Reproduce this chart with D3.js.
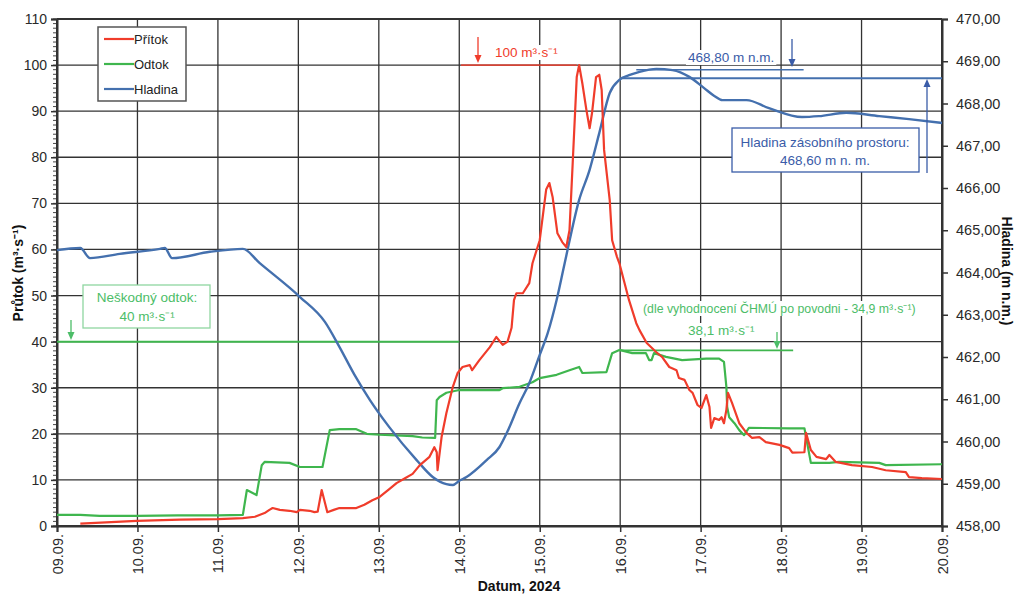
<!DOCTYPE html>
<html>
<head>
<meta charset="utf-8">
<script src="https://cdn.jsdelivr.net/npm/d3@7"></script>
<style>
  body { margin: 0; background: #fff; }
  svg { display: block; font-family: "Liberation Sans", Arial, sans-serif; }
</style>
</head>
<body>
<div class="chart"></div>
<script>
var svgWidth = 1016;
var svgHeight = 595;

var margin = { top: 19, right: 74, bottom: 69, left: 57 };
var width = svgWidth - margin.left - margin.right;
var height = svgHeight - margin.top - margin.bottom;

// tick labels (days from 09.09. 00:00)
var dateLabels = ["09.09.", "10.09.", "11.09.", "12.09.", "13.09.", "14.09.",
  "15.09.", "16.09.", "17.09.", "18.09.", "19.09.", "20.09."];
var leftTicks = [0, 10, 20, 30, 40, 50, 60, 70, 80, 90, 100, 110];
var rightTicks = [458, 459, 460, 461, 462, 463, 464, 465, 466, 467, 468, 469, 470];

// Přítok [day, m3/s]
var pritok = [
  [0.29, 0.5], [0.99, 1.1], [1.53, 1.4], [2.0, 1.5], [2.31, 1.7], [2.46, 2.0], [2.58, 2.8],
  [2.64, 3.5], [2.68, 3.9], [2.77, 3.5], [2.89, 3.3], [2.98, 3.0], [3.02, 3.5], [3.14, 3.3],
  [3.2, 3.0], [3.24, 3.1], [3.29, 7.8], [3.36, 3.0], [3.44, 3.5], [3.51, 3.9], [3.72, 3.9],
  [3.82, 4.6], [3.92, 5.6], [4.01, 6.3], [4.13, 8.0], [4.22, 9.3], [4.32, 10.3], [4.42, 11.3],
  [4.51, 13.2], [4.63, 15.0], [4.69, 17.1], [4.72, 16.0], [4.73, 12.1], [4.78, 19.3],
  [4.84, 24.5], [4.92, 30.2], [4.98, 33.2], [5.04, 34.5], [5.13, 34.9], [5.16, 33.8],
  [5.25, 36.0], [5.38, 38.8], [5.46, 41.0], [5.54, 39.3], [5.60, 40.0], [5.65, 43.0],
  [5.68, 49.0], [5.71, 50.5], [5.79, 50.5], [5.87, 52.7], [5.91, 57.0], [6.0, 62.0],
  [6.08, 73.0], [6.12, 74.4], [6.16, 71.4], [6.22, 63.5], [6.28, 61.6], [6.33, 60.5],
  [6.37, 64.2], [6.41, 78.8], [6.46, 97.4], [6.49, 100], [6.53, 96.0], [6.58, 90.3],
  [6.62, 86.3], [6.65, 89.6], [6.70, 97.4], [6.74, 97.9], [6.77, 94.6], [6.80, 81.6],
  [6.87, 70.7], [6.90, 62.0], [6.96, 58.4], [6.99, 57.0], [7.11, 49.0], [7.20, 44.0],
  [7.24, 42.5], [7.33, 39.7], [7.45, 37.7], [7.52, 36.7], [7.61, 34.5], [7.70, 33.8],
  [7.73, 32.1], [7.80, 31.7], [7.86, 29.5], [7.90, 28.9], [7.96, 26.3], [8.01, 25.6],
  [8.07, 28.4], [8.11, 25.8], [8.13, 21.3], [8.17, 23.4], [8.23, 23.0], [8.26, 23.6],
  [8.29, 22.3], [8.32, 25.2], [8.34, 28.9], [8.39, 26.7], [8.48, 22.3], [8.57, 20.2],
  [8.64, 19.1], [8.73, 19.3], [8.81, 18.2], [8.98, 17.6], [9.10, 16.9], [9.14, 15.9],
  [9.29, 16.0], [9.31, 20.2], [9.37, 16.5], [9.44, 15.0], [9.56, 14.5], [9.60, 15.4],
  [9.68, 13.9], [9.88, 13.2], [10.13, 12.8], [10.30, 12.1], [10.55, 11.7], [10.59, 10.6],
  [10.75, 10.4], [11.0, 10.2]
];

// Odtok [day, m3/s]
var odtok = [
  [0, 2.4], [0.29, 2.4], [0.53, 2.2], [1.0, 2.2], [1.5, 2.3], [2.0, 2.3], [2.31, 2.4],
  [2.36, 7.8], [2.48, 6.7], [2.545, 13.2], [2.58, 13.9], [2.89, 13.7], [3.02, 12.8],
  [3.30, 12.8], [3.39, 20.8], [3.51, 21.0], [3.72, 21.0], [3.85, 20.0], [4.01, 19.8],
  [4.42, 19.5], [4.54, 19.2], [4.70, 19.1], [4.72, 27.3], [4.755, 28.0], [4.84, 28.9],
  [5.0, 29.5], [5.5, 29.5], [5.54, 29.9], [5.75, 30.2], [5.91, 31.2], [6.0, 32.1],
  [6.21, 32.8], [6.37, 33.8], [6.49, 34.5], [6.53, 33.2], [6.83, 33.4], [6.90, 37.5],
  [6.99, 38.2], [7.15, 37.5], [7.32, 37.5], [7.36, 36.0], [7.39, 36.0], [7.42, 37.5],
  [7.57, 36.7], [7.77, 36.0], [8.07, 36.3], [8.23, 36.3], [8.29, 35.6], [8.32, 30.2],
  [8.33, 25.8], [8.355, 23.6], [8.42, 22.3], [8.48, 20.8], [8.54, 19.7], [8.60, 21.3],
  [9.10, 21.2], [9.29, 21.2], [9.37, 13.7], [9.60, 13.7], [9.72, 13.9], [10.22, 13.7],
  [10.30, 13.2], [11.0, 13.4]
];

// Hladina [day, m n.m.]
var hladina = [
  [0, 464.53], [0.29, 464.58], [0.41, 464.34], [0.78, 464.44], [1.28, 464.56], [1.34, 464.58],
  [1.43, 464.34], [1.90, 464.49], [2.31, 464.56], [2.52, 464.22], [3.02, 463.42], [3.33, 462.83],
  [3.51, 462.24], [3.70, 461.57], [3.89, 460.98], [4.13, 460.34], [4.47, 459.56],
  [4.67, 459.16], [4.84, 458.99], [4.92, 458.97], [5.0, 459.07], [5.09, 459.16],
  [5.34, 459.56], [5.50, 459.87], [5.59, 460.2], [5.75, 460.91], [5.87, 461.38],
  [6.0, 462.05], [6.10, 462.57], [6.21, 463.35], [6.31, 464.22], [6.49, 465.72],
  [6.62, 466.43], [6.74, 467.30], [6.87, 468.25], [6.99, 468.56], [7.11, 468.67],
  [7.24, 468.75], [7.45, 468.82], [7.65, 468.79], [7.86, 468.63], [8.04, 468.37],
  [8.17, 468.18], [8.27, 468.08], [8.57, 468.08], [8.85, 467.89], [9.26, 467.68],
  [9.47, 467.70], [9.81, 467.78], [10.22, 467.70], [10.59, 467.63], [11.0, 467.54]
];

var colors = { pritok: "#f03c2b", odtok: "#3fb64e", hladina: "#4470ae" };
var noteGreen = "#4cbd68";
var noteBlue = "#3a5ca8";

var svg = d3.select(".chart")
  .append("svg")
  .attr("width", svgWidth)
  .attr("height", svgHeight);

var chartGroup = svg.append("g")
  .attr("transform", `translate(${margin.left}, ${margin.top})`);

// scales
var xScale = d3.scaleLinear().domain([0, 11]).range([0, width]);
var yLeft = d3.scaleLinear().domain([0, 110]).range([height, 0]);
var yRight = d3.scaleLinear().domain([458, 470]).range([height, 0]);

// grid
chartGroup.append("g")
  .selectAll("line")
  .data(leftTicks)
  .enter()
  .append("line")
  .attr("x1", 0).attr("x2", width)
  .attr("y1", d => yLeft(d)).attr("y2", d => yLeft(d))
  .attr("stroke", "#333")
  .attr("stroke-width", d => (d === 110 || d === 0) ? 2.2 : 1.3);

chartGroup.append("g")
  .selectAll("line")
  .data(d3.range(dateLabels.length))
  .enter()
  .append("line")
  .attr("x1", d => xScale(d)).attr("x2", d => xScale(d))
  .attr("y1", 0).attr("y2", height)
  .attr("stroke", "#333")
  .attr("stroke-width", d => (d === 0 || d === 11) ? 2 : 1.3);

// left axis with minor ticks
var leftAxis = d3.axisLeft(yLeft).tickValues(leftTicks).tickSize(6).tickPadding(4);
var leftG = chartGroup.append("g").call(leftAxis);
leftG.select(".domain").attr("stroke", "#333").attr("stroke-width", 2);
leftG.selectAll(".tick line").attr("stroke", "#333").attr("stroke-width", 1.5);
leftG.selectAll(".tick text")
  .style("font-size", "14px")
  .style("fill", "#2a2a2a")
  .style("font-family", "Liberation Sans, Arial, sans-serif");

chartGroup.append("g")
  .selectAll("line")
  .data(d3.range(0, 111, 1))
  .enter()
  .append("line")
  .attr("x1", -4).attr("x2", 0)
  .attr("y1", d => yLeft(d)).attr("y2", d => yLeft(d))
  .attr("stroke", "#333")
  .attr("stroke-width", 0.9);

// right axis
var rightAxis = d3.axisRight(yRight).tickValues(rightTicks).tickSize(6).tickPadding(8)
  .tickFormat(d => d3.format(".2f")(d).replace(".", ","));
var rightG = chartGroup.append("g")
  .attr("transform", `translate(${width}, 0)`)
  .call(rightAxis);
rightG.select(".domain").attr("stroke", "#333").attr("stroke-width", 2);
rightG.selectAll(".tick line").attr("stroke", "#333").attr("stroke-width", 1.5);
rightG.selectAll(".tick text")
  .style("font-size", "14.5px")
  .style("fill", "#2a2a2a")
  .style("font-family", "Liberation Sans, Arial, sans-serif");

// bottom axis
var bottomAxis = d3.axisBottom(xScale)
  .tickValues(d3.range(dateLabels.length))
  .tickFormat(d => dateLabels[d])
  .tickSize(6);
var bottomG = chartGroup.append("g")
  .attr("transform", `translate(0, ${height})`)
  .call(bottomAxis);
bottomG.select(".domain").attr("stroke", "#333").attr("stroke-width", 2);
bottomG.selectAll(".tick line").attr("stroke", "#333").attr("stroke-width", 1.5);
bottomG.selectAll(".tick text")
  .attr("transform", "rotate(-90)")
  .attr("x", -8)
  .attr("y", 0)
  .attr("dy", "0.35em")
  .style("text-anchor", "end")
  .style("font-size", "14.5px")
  .style("fill", "#2a2a2a")
  .style("font-family", "Liberation Sans, Arial, sans-serif");

// axis titles
svg.append("text")
  .attr("transform", "translate(23, 273) rotate(-90)")
  .style("text-anchor", "middle")
  .style("font-size", "14px")
  .style("font-weight", "bold")
  .style("fill", "#111")
  .text("Průtok (m³·s⁻¹)");

svg.append("text")
  .attr("transform", "translate(1002, 271) rotate(90)")
  .style("text-anchor", "middle")
  .style("font-size", "14px")
  .style("font-weight", "bold")
  .style("fill", "#111")
  .text("Hladina (m n.m.)");

svg.append("text")
  .attr("x", 519)
  .attr("y", 591)
  .style("text-anchor", "middle")
  .style("font-size", "14px")
  .style("font-weight", "bold")
  .style("fill", "#111")
  .text("Datum, 2024");

// helper: text with white background
function note(g, x, y, txt, color, size, anchor) {
  var t = g.append("text")
    .attr("x", x).attr("y", y)
    .style("text-anchor", anchor || "start")
    .style("font-size", size + "px")
    .style("fill", color)
    .text(txt);
  var bb = t.node().getBBox();
  g.insert("rect", function () { return t.node(); })
    .attr("x", bb.x - 2).attr("y", bb.y)
    .attr("width", bb.width + 4).attr("height", bb.height)
    .attr("fill", "#fff");
  return t;
}

function arrow(g, x, y1, y2, color) {
  var dir = y2 > y1 ? 1 : -1;
  g.append("line")
    .attr("x1", x).attr("x2", x)
    .attr("y1", y1).attr("y2", y2 - dir * 6)
    .attr("stroke", color).attr("stroke-width", 1.3);
  g.append("path")
    .attr("d", `M${x - 3.5},${y2 - dir * 8} L${x + 3.5},${y2 - dir * 8} L${x},${y2} Z`)
    .attr("fill", color);
}

// reference lines (under series)
var refG = chartGroup.append("g");
refG.append("line")
  .attr("x1", 0).attr("x2", xScale(5))
  .attr("y1", yLeft(40)).attr("y2", yLeft(40))
  .attr("stroke", colors.odtok).attr("stroke-width", 2);
refG.append("line")
  .attr("x1", xScale(6.99)).attr("x2", xScale(9.15))
  .attr("y1", yLeft(38.1)).attr("y2", yLeft(38.1))
  .attr("stroke", colors.odtok).attr("stroke-width", 1.6);
refG.append("line")
  .attr("x1", xScale(5.02)).attr("x2", xScale(6.46))
  .attr("y1", yLeft(100)).attr("y2", yLeft(100))
  .attr("stroke", colors.pritok).attr("stroke-width", 1.6).attr("opacity", 0.8);
refG.append("line")
  .attr("x1", xScale(7.0)).attr("x2", width)
  .attr("y1", yRight(468.6)).attr("y2", yRight(468.6))
  .attr("stroke", colors.hladina).attr("stroke-width", 2);
refG.append("line")
  .attr("x1", xScale(7.2)).attr("x2", xScale(9.28))
  .attr("y1", yRight(468.8)).attr("y2", yRight(468.8))
  .attr("stroke", colors.hladina).attr("stroke-width", 1.6);

// series
var lineLeft = d3.line().x(d => xScale(d[0])).y(d => yLeft(d[1]));
var lineRight = d3.line().x(d => xScale(d[0])).y(d => yRight(d[1]));

chartGroup.append("path")
  .datum(odtok)
  .attr("d", lineLeft)
  .attr("fill", "none")
  .attr("stroke", colors.odtok)
  .attr("stroke-width", 2.2)
  .attr("stroke-linejoin", "round");

chartGroup.append("path")
  .datum(hladina)
  .attr("d", lineRight.curve(d3.curveMonotoneX))
  .attr("fill", "none")
  .attr("stroke", colors.hladina)
  .attr("stroke-width", 2.4)
  .attr("stroke-linejoin", "round");

chartGroup.append("path")
  .datum(pritok)
  .attr("d", lineLeft)
  .attr("fill", "none")
  .attr("stroke", colors.pritok)
  .attr("stroke-width", 2.2)
  .attr("stroke-linejoin", "round");

// annotations (page coordinates)
var noteG = svg.append("g");

// 100 m3/s
note(noteG, 495, 57, "100 m³·s⁻¹", colors.pritok, 13.5, "start");
arrow(noteG, 478, 37, 63, colors.pritok);

// 468,80
note(noteG, 688, 62, "468,80 m n.m.", noteBlue, 13.5, "start");
arrow(noteG, 792, 39, 67, noteBlue);

// storage level box
noteG.append("rect")
  .attr("x", 732).attr("y", 128)
  .attr("width", 187).attr("height", 44)
  .attr("fill", "#fff")
  .attr("stroke", noteBlue).attr("stroke-width", 1.3);
noteG.append("text")
  .attr("x", 825).attr("y", 147)
  .style("text-anchor", "middle").style("font-size", "13.5px").style("fill", noteBlue)
  .text("Hladina zásobního prostoru:");
noteG.append("text")
  .attr("x", 825).attr("y", 165)
  .style("text-anchor", "middle").style("font-size", "13.5px").style("fill", noteBlue)
  .text("468,60 m n. m.");
arrow(noteG, 927, 173, 79, noteBlue);

// harmless outflow box
noteG.append("rect")
  .attr("x", 83).attr("y", 285)
  .attr("width", 127).attr("height", 43)
  .attr("fill", "#fff")
  .attr("stroke", "#8fd6a0").attr("stroke-width", 1.3);
noteG.append("text")
  .attr("x", 147).attr("y", 302)
  .style("text-anchor", "middle").style("font-size", "13.5px").style("fill", noteGreen)
  .text("Neškodný odtok:");
noteG.append("text")
  .attr("x", 147).attr("y", 321)
  .style("text-anchor", "middle").style("font-size", "13.5px").style("fill", noteGreen)
  .text("40 m³·s⁻¹");
arrow(noteG, 71, 320, 340, noteGreen);

// max outflow
note(noteG, 643, 313, "(dle vyhodnocení ČHMÚ po povodni - 34,9 m³·s⁻¹)", noteGreen, 12.3, "start");
note(noteG, 688, 335, "38,1 m³·s⁻¹", noteGreen, 13.5, "start");
arrow(noteG, 777, 332, 349, noteGreen);

// legend
var legend = svg.append("g");
legend.append("rect")
  .attr("x", 98).attr("y", 27)
  .attr("width", 88).attr("height", 74)
  .attr("fill", "#fff")
  .attr("stroke", "#555").attr("stroke-width", 1.5);

var legendItems = [
  { name: "Přítok", color: colors.pritok },
  { name: "Odtok", color: colors.odtok },
  { name: "Hladina", color: colors.hladina }
];
legend.selectAll(".item")
  .data(legendItems)
  .enter()
  .append("line")
  .attr("x1", 104).attr("x2", 134)
  .attr("y1", (d, i) => 39 + i * 25).attr("y2", (d, i) => 39 + i * 25)
  .attr("stroke", d => d.color)
  .attr("stroke-width", 2.2);
legend.selectAll("text")
  .data(legendItems)
  .enter()
  .append("text")
  .attr("x", 134)
  .attr("y", (d, i) => 43.5 + i * 25)
  .style("font-size", "13px")
  .style("fill", "#222")
  .text(d => d.name);
</script>
</body>
</html>
